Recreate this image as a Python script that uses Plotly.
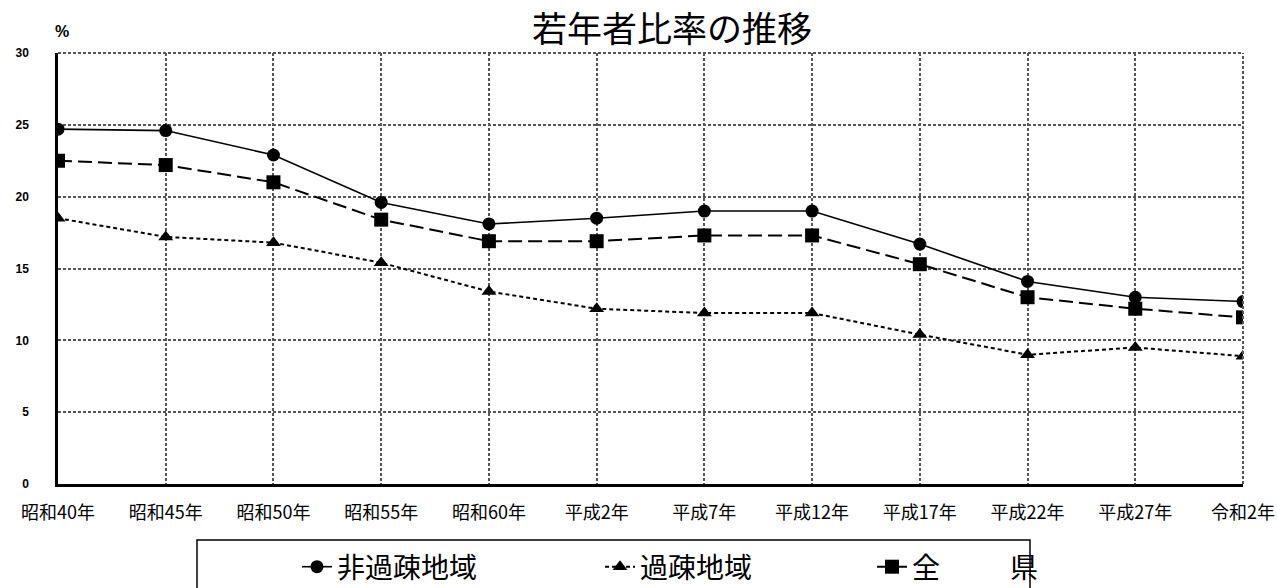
import plotly.graph_objects as go

# Survey years (Japanese era notation)
years = ["昭和40年", "昭和45年", "昭和50年", "昭和55年", "昭和60年", "平成2年",
         "平成7年", "平成12年", "平成17年", "平成22年", "平成27年", "令和2年"]

# Young-population ratio (%)
non_depopulated = [24.7, 24.6, 22.9, 19.6, 18.1, 18.5, 19.0, 19.0, 16.7, 14.1, 13.0, 12.7]
depopulated = [18.5, 17.2, 16.8, 15.4, 13.4, 12.2, 11.9, 11.9, 10.4, 9.0, 9.5, 8.9]
whole_pref = [22.5, 22.2, 21.0, 18.4, 16.9, 16.9, 17.3, 17.3, 15.3, 13.0, 12.2, 11.6]

y_ticks = [0, 5, 10, 15, 20, 25, 30]

xpos = list(range(len(years)))
JP = "Noto Sans CJK JP"

# plot-area geometry in pixels (used to place paper-referenced items)
W, H = 1277, 588
L, R, T, B = 58, 1243, 53, 484


def px(x):
    return (x - L) / (R - L)


def py(y):
    return (B - y) / (B - T)


fig = go.Figure()
fig.add_trace(go.Scatter(
    x=xpos, y=non_depopulated, name="非過疎地域", mode="lines+markers",
    line=dict(color="black", width=1.6),
    marker=dict(symbol="circle", size=13, color="black"),
    legend="legend",
))
fig.add_trace(go.Scatter(
    x=xpos, y=depopulated, name="過疎地域", mode="lines+markers",
    line=dict(color="black", width=2, dash="4px,3px"),
    marker=dict(symbol="triangle-up", size=13, color="black"),
    legend="legend2",
))
fig.add_trace(go.Scatter(
    x=xpos, y=whole_pref, name="全\u3000\u3000\u2002県", mode="lines+markers",
    line=dict(color="black", width=2, dash="14px,6px"),
    marker=dict(symbol="square", size=14, color="black"),
    legend="legend3",
))

grid = dict(showgrid=True, gridcolor="#555", gridwidth=2, griddash="3px,2px")
legend_font = dict(family=JP, size=28, color="black")


def legend_at(x_px):
    return dict(orientation="h", x=px(x_px), xanchor="left",
                y=py(567), yanchor="middle", font=legend_font,
                bgcolor="rgba(0,0,0,0)", borderwidth=0)


fig.update_layout(
    width=W, height=H,
    margin=dict(l=L, r=W - R, t=T, b=H - B, autoexpand=False),
    paper_bgcolor="white", plot_bgcolor="white",
    title=dict(text="若年者比率の推移", x=672 / W, xanchor="center",
               y=1 - 30 / H, yanchor="middle",
               font=dict(family=JP, size=35, color="black")),
    xaxis=dict(range=[0, len(years) - 1], tickvals=xpos, ticktext=years,
               tickfont=dict(family=JP, size=18, color="black"),
               showline=True, linecolor="black", linewidth=2.5,
               ticks="", ticklabelstandoff=11, zeroline=False, **grid),
    yaxis=dict(range=[0, 30], tickvals=y_ticks,
               tickfont=dict(family="Liberation Sans", size=12, color="black",
                             weight="bold"),
               showline=True, linecolor="black", linewidth=2.5,
               ticks="", ticklabelstandoff=24, zeroline=False, **grid),
    showlegend=True,
    legend=legend_at(297),
    legend2=legend_at(600),
    legend3=legend_at(872),
    annotations=[dict(text="%", xref="paper", yref="paper",
                      x=px(62), y=py(32),
                      xanchor="center", yanchor="middle", showarrow=False,
                      font=dict(family="Liberation Sans", size=16, color="black",
                                weight="bold"))],
    shapes=[
        # top and right frame edges
        dict(type="line", xref="paper", yref="paper", x0=0, x1=1, y0=1, y1=1,
             line=dict(color="#555", width=2, dash="3px,2px")),
        dict(type="line", xref="paper", yref="paper", x0=1, x1=1, y0=0, y1=1,
             line=dict(color="#555", width=2, dash="3px,2px")),
        # legend frame
        dict(type="rect", xref="paper", yref="paper",
             x0=px(197), x1=px(1030), y0=py(600), y1=py(540),
             line=dict(color="black", width=1.5), layer="below"),
    ],
)

fig.write_html("out.html")
